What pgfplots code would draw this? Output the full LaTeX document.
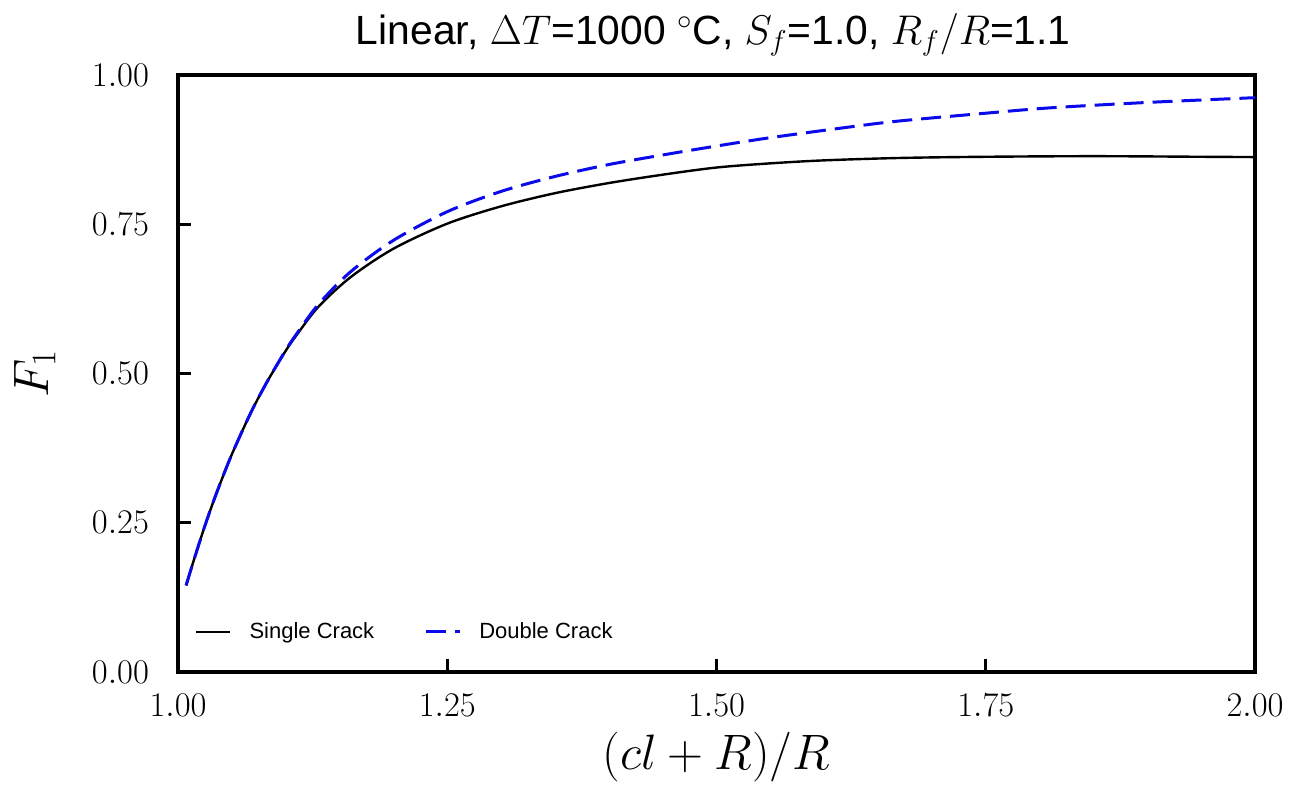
\documentclass[border=0pt]{standalone}
\usepackage{pgfplots}
\pgfplotsset{compat=1.18}
\usepackage{fontspec}
\setmainfont{Liberation Sans}
\definecolor{dblue}{RGB}{10,10,235}
\pgfplotstableread{
x y
1.0075 0.145
1.015 0.189
1.025 0.245
1.035 0.296
1.048 0.356
1.06 0.405
1.07 0.443
1.083 0.487
1.10 0.538
1.11 0.564
1.13 0.611
1.16 0.661
1.20 0.709
1.25 0.751
1.30 0.780
1.35 0.802
1.40 0.819
1.45 0.833
1.50 0.845
1.55 0.852
1.60 0.857
1.67 0.861
1.75 0.863
1.85 0.864
1.95 0.863
2.00 0.8625
}\single
\pgfplotstableread{
x y
1.0075 0.145
1.015 0.189
1.025 0.245
1.035 0.296
1.048 0.356
1.06 0.405
1.07 0.443
1.083 0.487
1.10 0.539
1.11 0.566
1.13 0.615
1.16 0.670
1.20 0.723
1.25 0.771
1.30 0.805
1.35 0.830
1.40 0.850
1.45 0.866
1.50 0.881
1.55 0.895
1.624 0.913
1.67 0.923
1.75 0.936
1.81 0.945
1.90 0.954
2.00 0.962
}\double
\begin{document}
\begin{tikzpicture}
\begin{axis}[
  scale only axis, width=538.5pt, height=298.5pt,
  xmin=1, xmax=2, ymin=0, ymax=1,
  xtick={1,1.25,1.5,1.75,2}, ytick={0,0.25,0.5,0.75,1},
  tick align=inside, tick pos=left,
  major tick length=6.5pt,
  axis line style={line width=1.6pt},
  every tick/.style={black, line width=1.4pt},
  x tick label style={/pgf/number format/.cd,fixed,fixed zerofill,precision=2,/tikz/.cd,font=\fontsize{16.5}{19}\selectfont,yshift=-7.5pt},
  y tick label style={/pgf/number format/.cd,fixed,fixed zerofill,precision=2,/tikz/.cd,font=\fontsize{16.5}{19}\selectfont,xshift=-11pt},
  title={Linear, $\Delta T$=1000 $^\circ$C, $S_f$=1.0, $R_f/R$=1.1},
  every axis title shift=0pt,
  title style={at={(axis description cs:0.497,1.067)}, anchor=center, font=\fontsize{20.4}{24}\selectfont},
  xlabel={$(cl+R)/R$},
  xlabel style={at={(axis description cs:0.5,-0.142)}, anchor=center, font=\fontsize{24}{28}\selectfont},
  ylabel={$F_1$},
  ylabel style={at={(axis description cs:-0.133,0.5)}, anchor=center, font=\fontsize{23}{27}\selectfont},
  legend style={at={(axis description cs:0.010,0.067)}, anchor=west, draw=none, fill=none,
    font=\fontsize{11}{14}\selectfont,
    /tikz/every odd column/.append style={column sep=7pt},
    /tikz/every even column/.append style={column sep=23pt}},
  legend image code/.code={\draw[#1] (0pt,0pt) -- (17pt,0pt);},
  legend columns=2, legend cell align=left,
]
\addplot[black, line width=1.2pt, smooth] table[x=x,y=y] {\single};
\addlegendentry{Single Crack}
\addplot[dblue, line width=1.5pt, dash pattern=on 10pt off 4.5pt, smooth] table[x=x,y=y] {\double};
\addlegendentry{Double Crack}
\end{axis}
\pgfresetboundingbox
\path (-89pt,-59pt) rectangle (565.5pt,336pt);
\end{tikzpicture}
\end{document}
